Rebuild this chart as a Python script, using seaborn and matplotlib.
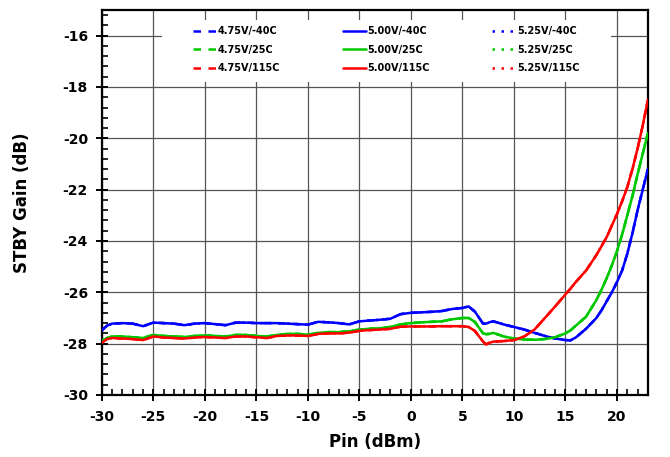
import matplotlib
matplotlib.use("Agg")
import matplotlib.pyplot as plt
from matplotlib.patches import Rectangle
from matplotlib.ticker import MultipleLocator
import seaborn as sns

# Input power sweep (dBm)
pin_dbm = [-30, -29.5, -29, -28, -27, -26, -25, -24, -23, -22, -21, -20, -19,
           -18, -17, -16, -15, -14, -13, -12, -11, -10, -9, -8, -7, -6, -5,
           -4, -3, -2, -1, 0, 1, 2, 3, 4, 5, 5.6, 6.2, 7, 7.3, 7.6, 8, 9, 10,
           11, 12, 13, 14, 15, 15.5, 16, 17, 18, 18.5, 19, 19.5, 20, 20.5, 21,
           21.5, 22, 22.5, 23]

# Standby gain (dB) per temperature
gain_m40c = [-27.48, -27.30, -27.22, -27.20, -27.22, -27.32, -27.18, -27.20,
             -27.22, -27.28, -27.22, -27.20, -27.24, -27.28, -27.18, -27.18,
             -27.20, -27.20, -27.20, -27.22, -27.24, -27.26, -27.15, -27.17,
             -27.20, -27.25, -27.13, -27.10, -27.07, -27.03, -26.85, -26.80,
             -26.78, -26.76, -26.73, -26.65, -26.61, -26.55, -26.75, -27.22,
             -27.22, -27.17, -27.13, -27.25, -27.35, -27.45, -27.58, -27.70,
             -27.80, -27.86, -27.87, -27.76, -27.42, -27.00, -26.70, -26.35,
             -26.00, -25.60, -25.15, -24.50, -23.70, -22.80, -22.00, -21.20]

gain_25c = [-27.90, -27.78, -27.72, -27.72, -27.75, -27.78, -27.66, -27.70,
            -27.72, -27.74, -27.70, -27.68, -27.70, -27.72, -27.66, -27.66,
            -27.70, -27.72, -27.66, -27.62, -27.62, -27.65, -27.58, -27.55,
            -27.55, -27.52, -27.45, -27.42, -27.40, -27.35, -27.25, -27.20,
            -27.17, -27.15, -27.13, -27.05, -27.00, -27.00, -27.15, -27.60,
            -27.63, -27.62, -27.58, -27.72, -27.80, -27.84, -27.85, -27.82,
            -27.75, -27.60, -27.48, -27.30, -26.95, -26.30, -25.90, -25.45,
            -24.95, -24.40, -23.75, -23.00, -22.25, -21.40, -20.60, -19.80]

gain_115c = [-27.96, -27.82, -27.78, -27.80, -27.82, -27.86, -27.72, -27.76,
             -27.78, -27.80, -27.76, -27.74, -27.76, -27.78, -27.72, -27.72,
             -27.75, -27.78, -27.70, -27.68, -27.68, -27.70, -27.62, -27.60,
             -27.60, -27.57, -27.50, -27.47, -27.45, -27.42, -27.34, -27.33,
             -27.33, -27.33, -27.32, -27.32, -27.32, -27.35, -27.50, -27.92,
             -28.03, -27.97, -27.92, -27.90, -27.86, -27.72, -27.45, -27.00,
             -26.55, -26.08, -25.85, -25.60, -25.15, -24.55, -24.20, -23.85,
             -23.40, -22.95, -22.45, -21.90, -21.20, -20.40, -19.50, -18.50]

supplies = ["4.75V", "5.00V", "5.25V"]
temperatures = ["-40C", "25C", "115C"]
gain_by_temp = {"-40C": gain_m40c, "25C": gain_25c, "115C": gain_115c}
temp_colors = {"-40C": "#0000FF", "25C": "#00C800", "115C": "#FF0000"}
supply_styles = {"4.75V": (0, (3, 3)), "5.00V": "-", "5.25V": (0, (1, 2.6))}

sns.set_theme(style="white")
plt.rcParams["font.family"] = ["DejaVu Sans"]
plt.rcParams["font.weight"] = "bold"
plt.rcParams["axes.unicode_minus"] = False
plt.rcParams["text.color"] = "black"
plt.rcParams["axes.labelcolor"] = "black"

fig = plt.figure(figsize=(6.7, 4.57), dpi=100)
ax = fig.add_axes([0.152, 0.1357, 0.815, 0.8425])

handles = {}
# dashed / dotted supplies first, nominal supply drawn on top
for supply in ["4.75V", "5.25V", "5.00V"]:
    for temp in temperatures:
        sns.lineplot(x=pin_dbm, y=gain_by_temp[temp], ax=ax,
                     color=temp_colors[temp], linestyle=supply_styles[supply],
                     linewidth=1.8, zorder=3, legend=False)
        handles[(supply, temp)] = ax.lines[-1]

ax.set_xlim(-30, 23)
ax.set_ylim(-30, -15)
ax.xaxis.set_major_locator(MultipleLocator(5))
ax.xaxis.set_minor_locator(MultipleLocator(1))
ax.yaxis.set_major_locator(MultipleLocator(2))
ax.yaxis.set_minor_locator(MultipleLocator(0.4))

ax.set_axisbelow(True)
ax.grid(which="major", color="#555555", linewidth=0.9)
ax.grid(which="minor", visible=False)

for side in ["left", "bottom", "top", "right"]:
    ax.spines[side].set_visible(True)
    ax.spines[side].set_color("black")
    ax.spines[side].set_linewidth(1.6)

ax.tick_params(which="major", direction="inout", length=8, width=1.4,
               colors="black", labelcolor="black", labelsize=10,
               left=True, bottom=True)
ax.tick_params(axis="x", which="major", pad=7)
ax.tick_params(axis="y", which="major", pad=6)
ax.tick_params(which="minor", direction="in", length=4.5, width=1.2,
               colors="black", left=True, bottom=True)
for lbl in ax.get_xticklabels() + ax.get_yticklabels():
    lbl.set_fontweight("bold")

ax.set_xlabel("Pin (dBm)", fontsize=12, fontweight="bold", labelpad=6,
              color="black")
ax.set_ylabel("STBY Gain (dB)", fontsize=12, fontweight="bold", labelpad=23,
              color="black")

# white panel behind the legend
ax.add_patch(Rectangle((0.11, 0.813), 0.822, 0.161, transform=ax.transAxes,
                       facecolor="white", edgecolor="none", zorder=1))

order = [(s, t) for s in supplies for t in temperatures]
leg = ax.legend([handles[k] for k in order], [f"{s}/{t}" for s, t in order],
                ncol=3, loc="upper left", frameon=False,
                bbox_to_anchor=(193 / 670, 1 - 26 / 457),
                bbox_transform=fig.transFigure, borderpad=0, borderaxespad=0,
                handlelength=2.4, handletextpad=0.15, columnspacing=6.4,
                labelspacing=0.9, prop={"size": 7, "weight": "bold"})
for txt in leg.get_texts():
    txt.set_color("black")
leg.set_zorder(5)

fig.savefig("out.png", dpi=100)
